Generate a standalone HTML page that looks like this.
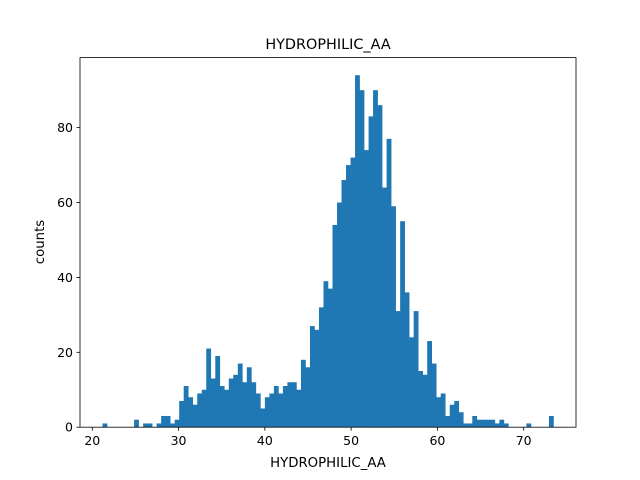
<!DOCTYPE html>
<html><head><meta charset="utf-8"><style>
body{margin:0;background:#fff}
svg{display:block;font-family:"DejaVu Sans","Liberation Sans",sans-serif}
</style></head><body>
<svg id="chart" width="640" height="480" viewBox="0 0 640 480">
<rect width="640" height="480" fill="#fff"/>
<g id="bars"></g>
<g id="axes"></g>
<text x="328" y="49" text-anchor="middle" font-size="14.4">HYDROPHILIC_AA</text>
<text x="328" y="467" text-anchor="middle" font-size="13.3">HYDROPHILIC_AA</text>
<text transform="translate(44,242) rotate(-90)" text-anchor="middle" font-size="13.3">counts</text>
</svg>
<script>
const counts = [1,0,0,0,0,0,0,2,0,1,1,0,1,3,3,1,2,7,11,8,6,9,10,21,13,19,11,10,13,14,17,12,16,12,9,5,8,9,11,9,11,12,12,10,18,16,27,26,32,39,37,54,60,66,70,72,94,90,74,83,90,86,64,77,59,31,55,36,24,31,15,14,23,17,8,9,3,6,7,4,1,1,3,2,2,2,2,1,2,1,0,0,0,0,1,0,0,0,0,3];
const binStart = 21.19;
const binEnd = 73.45;
const xTicks = [20,30,40,50,60,70];
const yTicks = [0,20,40,60,80];

const L=80,R=576,T=57.6,B=427.2;
const span=binEnd-binStart;
const xmin=binStart-0.05*span, xmax=binEnd+0.05*span;
const ymax=Math.max(...counts)*1.05;
const xs=v=>L+(v-xmin)/(xmax-xmin)*(R-L);
const ys=v=>B-(v/ymax)*(B-T);
const NS="http://www.w3.org/2000/svg";
const bars=document.getElementById('bars');
const bw=span/counts.length;
counts.forEach((c,i)=>{
  if(c<=0) return;
  const r=document.createElementNS(NS,'rect');
  const x0=xs(binStart+i*bw), x1=xs(binStart+(i+1)*bw);
  r.setAttribute('x',x0);r.setAttribute('width',x1-x0+0.3);
  r.setAttribute('y',ys(c));r.setAttribute('height',B-ys(c));
  r.setAttribute('fill','#1f77b4');
  
  
  bars.appendChild(r);
});
const ax=document.getElementById('axes');
function el(tag,attrs,txt){const e=document.createElementNS(NS,tag);for(const k in attrs)e.setAttribute(k,attrs[k]);if(txt!==undefined)e.textContent=txt;ax.appendChild(e);return e;}
const frame=el('rect',{x:L,y:T,width:R-L,height:B-T,fill:'none',stroke:'#000','stroke-width':0.8});


xTicks.forEach(v=>{
  const x=xs(v);
  const t=el('line',{x1:x,x2:x,y1:B,y2:B+3.5,stroke:'#000','stroke-width':0.8});
  
  
  const l=el('text',{x:x,y:B+18,'text-anchor':'middle','font-size':12.5},String(v));
  
  
});
yTicks.forEach(v=>{
  const y=ys(v);
  const t=el('line',{x1:L-3.5,x2:L,y1:y,y2:y,stroke:'#000','stroke-width':0.8});
  
  
  const l=el('text',{x:L-7,y:y+4.5,'text-anchor':'end','font-size':12.5},String(v));
  
  
});
</script>
</body></html>
